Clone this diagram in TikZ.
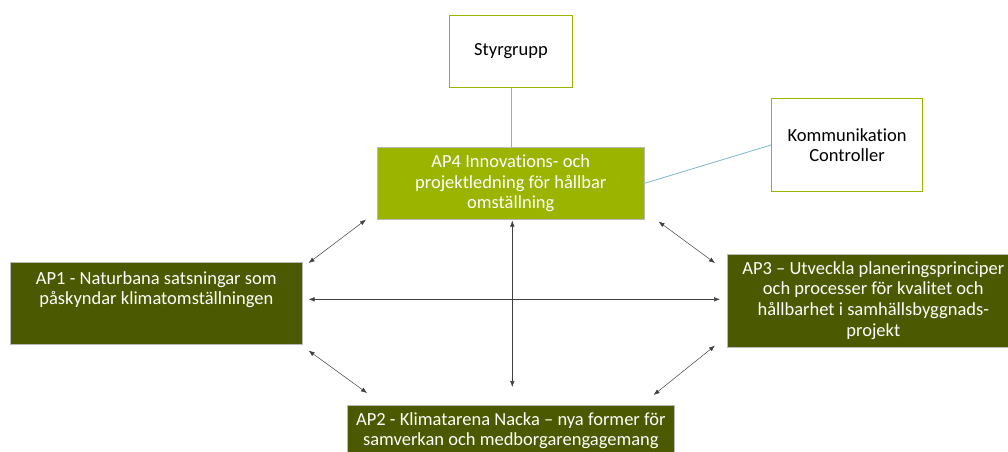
\documentclass[tikz,border=0pt]{standalone}
\usepackage{fontspec}
\setmainfont{Carlito}[RawFeature={-liga}]
\usetikzlibrary{arrows.meta,positioning}
\definecolor{apgreen}{HTML}{9AB400}
\definecolor{apdark}{HTML}{4B5A00}
\definecolor{linkblue}{HTML}{7FB4CE}
\tikzset{
  wbox/.style={draw=apgreen, line width=1pt, fill=white, align=center, inner sep=0pt, font=\fontsize{18.5}{20.5}\selectfont},
  apbox/.style={draw=gray!55, line width=0.6pt, fill=apdark, inner sep=0pt, anchor=north west},
  aptext/.style={text=white, align=center, inner sep=0pt, anchor=north, font=\fontsize{18.5}{20.8}\selectfont},
  link/.style={draw=linkblue, line width=0.8pt},
  dbl/.style={{Latex[length=6pt,width=4.5pt]}-{Latex[length=6pt,width=4.5pt]}, line width=0.5pt, draw=black!75}
}
\begin{document}
\begin{tikzpicture}[x=1pt,y=-1pt]
\useasboundingbox (0,0) rectangle (1008,451);
% top boxes
\node[wbox, minimum width=123, minimum height=72, anchor=north west] (styr) at (449,15) {Styrgrupp};
\node[wbox, minimum width=151, minimum height=93, anchor=north west] (komm) at (771,98) {Kommunikation\\Controller};
\node[apbox, fill=apgreen, minimum width=267, minimum height=72, align=center, text=white, font=\fontsize{18.5}{20.5}\selectfont] (ap4) at (377,147) {AP4 Innovations- och\\projektledning för hållbar\\omställning};
% work packages
\node[apbox, minimum width=292, minimum height=82] (ap1) at (10,262) {};
\node[aptext] (ap1txt) at ([shift={(0,9)}]ap1.north) {AP1 - Naturbana satsningar som\\påskyndar klimatomställningen};
\node[apbox, minimum width=292, minimum height=93] (ap3) at (727,254) {};
\node[aptext] (ap3txt) at ([shift={(0,7)}]ap3.north) {AP3 – Utveckla planeringsprinciper\\och processer för kvalitet och\\hållbarhet i samhällsbyggnads-\\projekt};
\node[apbox, minimum width=327, minimum height=70] (ap2) at (347,405) {};
\node[aptext] (ap2txt) at ([shift={(0,7)}]ap2.north) {AP2 - Klimatarena Nacka – nya former för\\samverkan och medborgarengagemang};
% lines
\draw[link] (styr.south) -- (styr.south |- ap4.north);
\draw[link] (ap4.east) -- (komm.west);
\draw[dbl] ([shift={(6,1)}]ap1.north east) -- ([shift={(-11,0)}]ap4.south west);
\draw[dbl] ([shift={(14,2)}]ap4.south east) -- ([shift={(-12,9)}]ap3.north west);
\draw[dbl] ([shift={(6,-4)}]ap1.east) -- ([shift={(-7,-1.5)}]ap3.west);
\draw[dbl] ([shift={(1.5,1)}]ap4.south) -- ([shift={(1.5,-18)}]ap2.north);
\draw[dbl] ([shift={(6,6)}]ap1.south east) -- ([shift={(20,-12)}]ap2.north west);
\draw[dbl] ([shift={(-12,-2)}]ap3.south west) -- ([shift={(-21,-10)}]ap2.north east);
\end{tikzpicture}
\end{document}
